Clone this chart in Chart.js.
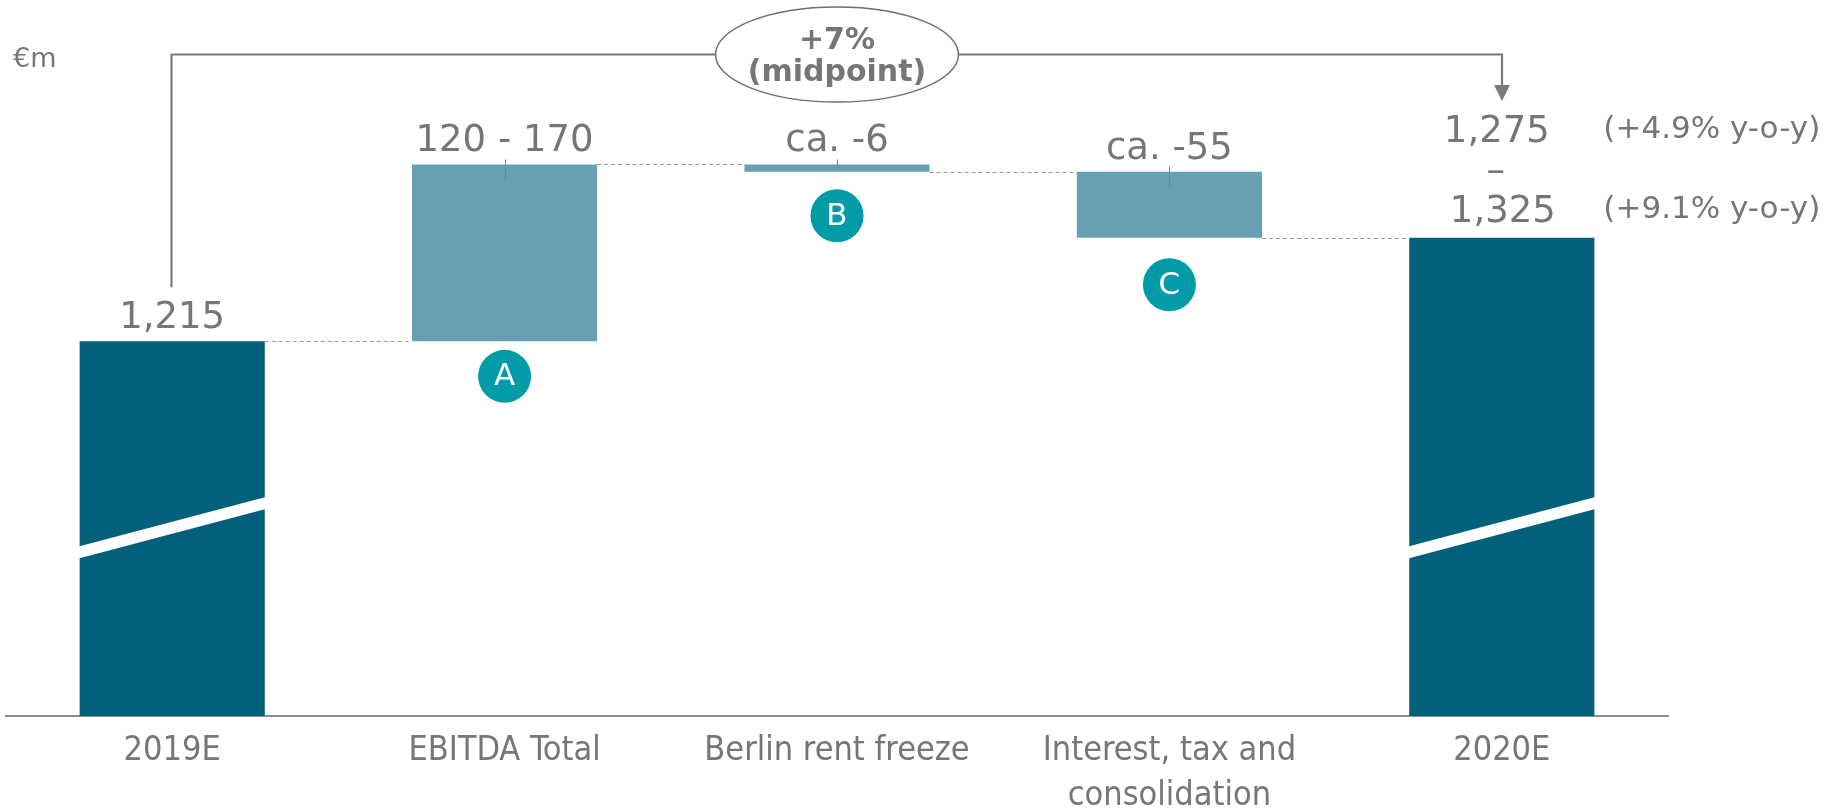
<!DOCTYPE html>
<html><head><meta charset="utf-8">
<script src="https://cdn.jsdelivr.net/npm/chart.js@4.4.1/dist/chart.umd.min.js"></script>
<style>html,body{margin:0;padding:0;background:#fff;overflow:hidden}canvas{display:block}</style>
</head><body>
<canvas id="c" width="1835" height="812"></canvas>
<script>
// ---- data ----
const categories = ['2019E', 'EBITDA Total', 'Berlin rent freeze', ['Interest, tax and', 'consolidation'], '2020E'];
const barLow  = [908, 1215, 1354, 1300, 908];
const barHigh = [1215, 1360, 1360, 1354, 1300];
const barKind = ['total', 'delta', 'delta', 'delta', 'total'];
const valueLabels = ['1,215', '120 - 170', 'ca. -6', 'ca. -55', ''];
const rangeLabels2020 = ['1,275', '\u2013', '1,325'];
const yoyLabels = ['(+4.9% y-o-y)', '(+9.1% y-o-y)'];
const markerLetters = ['', 'A', 'B', 'C', ''];
const growthLabel = ['+7%', '(midpoint)'];
const unitLabel = '\u20acm';
const axisMin = 908, axisMax = 1480;

const DARK = '#03607A', LIGHT = '#67A0B2', TEAL = '#009BA6', GREY = '#767676', LINE = '#7a7a7a';
const VFONT = '"DejaVu Sans", Verdana, sans-serif';
const XFONT = '"DejaVu Sans Condensed", "Liberation Sans Narrow", "Liberation Sans", sans-serif';

const deco = {
  id: 'deco',
  afterDatasetsDraw(chart) {
    const ctx = chart.ctx;
    const meta = chart.getDatasetMeta(0);
    const bars = meta.data.map(b => {
      const p = b.getProps(['x', 'y', 'base', 'width'], true);
      return { x: p.x, left: p.x - p.width / 2, right: p.x + p.width / 2,
               top: Math.min(p.y, p.base), bottom: Math.max(p.y, p.base) };
    });
    const ys = chart.scales.y;
    ctx.save();

    // axis-break bands on total bars
    bars.forEach((b, i) => {
      if (barKind[i] !== 'total') return;
      const yl = b.bottom - 163.5, yr = b.bottom - 213, h = 6;
      ctx.fillStyle = '#ffffff';
      ctx.beginPath();
      ctx.moveTo(b.left - 1, yl - h);
      ctx.lineTo(b.right + 1, yr - h);
      ctx.lineTo(b.right + 1, yr + h);
      ctx.lineTo(b.left - 1, yl + h);
      ctx.closePath();
      ctx.fill();
    });

    // dashed connectors
    ctx.strokeStyle = '#999999';
    ctx.lineWidth = 1;
    ctx.setLineDash([4, 3]);
    for (let i = 0; i < bars.length - 1; i++) {
      const a = [barLow[i], barHigh[i]], n = [barLow[i + 1], barHigh[i + 1]];
      const lvl = a.find(v => n.includes(v));
      const y = Math.round(ys.getPixelForValue(lvl)) + 0.5;
      ctx.beginPath();
      ctx.moveTo(bars[i].right, y);
      ctx.lineTo(bars[i + 1].left, y);
      ctx.stroke();
    }
    ctx.setLineDash([]);

    // small marks on delta bars
    ctx.strokeStyle = '#808080';
    ctx.lineWidth = 1;
    bars.forEach((b, i) => {
      if (barKind[i] !== 'delta') return;
      const x = Math.round(b.x) + 0.5;
      ctx.beginPath();
      ctx.moveTo(x, b.top - 5);
      ctx.lineTo(x, Math.min(b.top + 16, b.bottom - 4));
      ctx.stroke();
    });

    // value labels
    ctx.fillStyle = GREY;
    ctx.textAlign = 'center';
    ctx.textBaseline = 'alphabetic';
    ctx.font = '37px ' + VFONT;
    bars.forEach((b, i) => {
      if (valueLabels[i]) ctx.fillText(valueLabels[i], b.x, b.top - 13);
    });

    // 2020E range label
    const last = bars[bars.length - 1];
    const rOff = [-96, -56, -16];
    const rDx = [-5, -6, 1];
    rangeLabels2020.forEach((t, k) => ctx.fillText(t, last.x + rDx[k], last.top + rOff[k]));
    ctx.font = '31px ' + VFONT;
    ctx.textAlign = 'left';
    const yOff = [-100, -20];
    yoyLabels.forEach((t, k) => ctx.fillText(t, last.right + 9, last.top + yOff[k]));

    // letter markers
    const mOff = [0, 35, 44, 47];
    bars.forEach((b, i) => {
      if (!markerLetters[i]) return;
      const cy = b.bottom + mOff[i];
      ctx.fillStyle = TEAL;
      ctx.beginPath();
      ctx.arc(b.x, cy, 26.5, 0, Math.PI * 2);
      ctx.fill();
      ctx.fillStyle = '#ffffff';
      ctx.font = '31px ' + VFONT;
      ctx.textAlign = 'center';
      ctx.textBaseline = 'middle';
      ctx.fillText(markerLetters[i], b.x, cy + 1);
    });

    // growth bracket
    const first = bars[0];
    const bx0 = Math.round(first.x) - 0.5, bx1 = Math.round(last.x), by = 54.5;
    ctx.strokeStyle = LINE;
    ctx.lineWidth = 2.2;
    ctx.beginPath();
    ctx.moveTo(bx0, first.top - 54);
    ctx.lineTo(bx0, by);
    ctx.lineTo(bx1, by);
    ctx.lineTo(bx1, 87);
    ctx.stroke();
    ctx.fillStyle = LINE;
    ctx.beginPath();
    ctx.moveTo(bx1 - 8, 85);
    ctx.lineTo(bx1 + 8, 85);
    ctx.lineTo(bx1, 101);
    ctx.closePath();
    ctx.fill();

    const ex = bars[2].x, ey = 54.5;
    ctx.fillStyle = '#ffffff';
    ctx.strokeStyle = '#6f6f6f';
    ctx.lineWidth = 1.5;
    ctx.beginPath();
    ctx.ellipse(ex, ey, 121.5, 47.5, 0, 0, Math.PI * 2);
    ctx.fill();
    ctx.stroke();
    ctx.fillStyle = GREY;
    ctx.font = 'bold 30px ' + VFONT;
    ctx.textAlign = 'center';
    ctx.textBaseline = 'middle';
    ctx.fillText(growthLabel[0], ex, 41);
    ctx.fillText(growthLabel[1], ex, 73);

    // unit label
    ctx.font = '27px ' + VFONT;
    ctx.textAlign = 'left';
    ctx.textBaseline = 'alphabetic';
    ctx.fillText(unitLabel, 13, 67);
    ctx.restore();
  }
};

new Chart(document.getElementById('c'), {
  type: 'bar',
  data: {
    labels: categories,
    datasets: [{
      data: barLow.map((lo, i) => [lo, barHigh[i]]),
      backgroundColor: barKind.map(k => k === 'total' ? DARK : LIGHT),
      borderWidth: 0,
      barPercentage: 0.557,
      categoryPercentage: 1.0
    }]
  },
  options: {
    responsive: false,
    animation: false,
    devicePixelRatio: 1,
    layout: { padding: { left: 6, right: 167, top: 18, bottom: 0 } },
    plugins: { legend: { display: false }, tooltip: { enabled: false } },
    scales: {
      x: {
        grid: { display: false, drawTicks: false },
        border: { display: true, color: '#8c8c8c', width: 2 },
        ticks: { color: GREY, padding: 13, font: { family: XFONT, size: 34, lineHeight: 45 / 34 } },
        afterFit(scale) { scale.height = 96; }
      },
      y: { display: false, min: axisMin, max: axisMax }
    }
  },
  plugins: [deco]
});
</script>
</body></html>
